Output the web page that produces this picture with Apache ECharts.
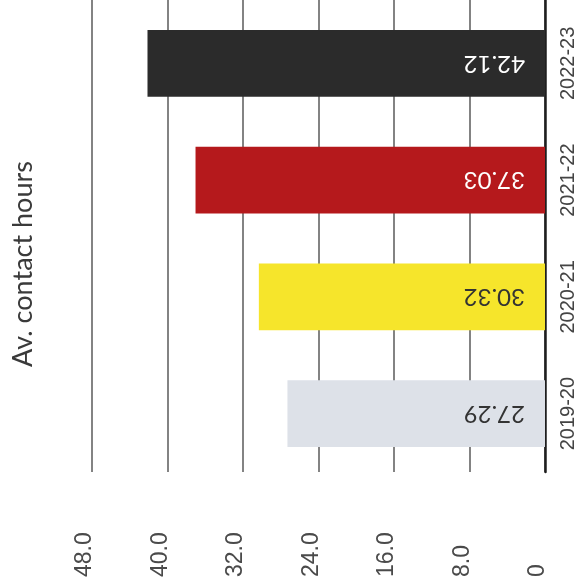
<!DOCTYPE html>
<html>
<head>
<meta charset="utf-8">
<style>
  html, body { margin: 0; padding: 0; background: #ffffff; }
  #chart { width: 582px; height: 588px; }
</style>
<script src="https://cdn.jsdelivr.net/npm/echarts@6/dist/echarts.min.js"></script>
</head>
<body>
<div id="chart"></div>
<script>
// Academic years, oldest first
const years = ['2019-20', '2020-21', '2021-22', '2022-23'];
// Average contact hours per year
const hours = [27.29, 30.32, 37.03, 42.12];
// Value axis ticks
const tickValues = [0, 8, 16, 24, 32, 40, 48];
const tickLabels = ['0', '8.0', '16.0', '24.0', '32.0', '40.0', '48.0'];

const barColors = ['#dde1e8', '#f6e52b', '#b5191c', '#2b2b2b'];
const labelColors = ['#333333', '#333333', '#ffffff', '#ffffff'];

const chart = echarts.init(document.getElementById('chart'), null, { renderer: 'canvas' });

const labelFor = v => tickLabels[tickValues.indexOf(v)];

chart.setOption({
  animation: false,
  backgroundColor: '#ffffff',
  grid: [
    // grid with the value gridlines
    { left: 92, right: 37, top: 0, bottom: 116 },
    // grid holding the bars
    { left: 92, right: 37, top: 5, bottom: 116 }
  ],
  xAxis: [
    {
      gridIndex: 0,
      type: 'value',
      min: 0,
      max: 48,
      interval: 8,
      inverse: true,
      axisLine: { show: false },
      axisTick: { show: false },
      splitLine: { show: true, lineStyle: { color: '#5a5a5a', width: 1.5 } },
      axisLabel: {
        rotate: 90,
        align: 'left',
        verticalAlign: 'bottom',
        lineHeight: 14,
        margin: 105,
        fontFamily: 'Liberation Sans',
        fontSize: 23,
        color: '#4a4a4a',
        formatter: v => labelFor(v)
      }
    },
    {
      gridIndex: 1,
      type: 'value',
      min: 0,
      max: 48,
      inverse: true,
      show: false
    }
  ],
  yAxis: [
    {
      gridIndex: 0,
      type: 'value',
      position: 'right',
      min: 0,
      max: 1,
      axisLine: { show: true, lineStyle: { color: '#1e1e1e', width: 2.5 } },
      axisTick: { show: false },
      axisLabel: { show: false },
      splitLine: { show: false }
    },
    {
      gridIndex: 1,
      type: 'category',
      position: 'right',
      data: years,
      axisLine: { show: false },
      axisTick: { show: false },
      splitLine: { show: false },
      axisLabel: {
        rotate: 90,
        align: 'center',
        verticalAlign: 'top',
        margin: 13,
        fontFamily: 'Liberation Sans',
        fontSize: 20,
        color: '#444444'
      }
    }
  ],
  series: [
    {
      type: 'bar',
      xAxisIndex: 1,
      yAxisIndex: 1,
      barCategoryGap: '43%',
      data: hours.map((v, i) => ({
        value: v,
        itemStyle: { color: barColors[i] },
        label: { color: labelColors[i] }
      })),
      label: {
        show: true,
        position: 'insideRight',
        distance: 20,
        rotate: 180,
        align: 'left',
        verticalAlign: 'middle',
        fontFamily: 'Lato',
        fontSize: 24,
        formatter: p => p.value.toFixed(2)
      }
    }
  ],
  graphic: [
    {
      type: 'text',
      x: 23,
      y: 264,
      rotation: Math.PI / 2,
      style: {
        text: 'Av. contact hours',
        fontFamily: 'Lato',
        fontSize: 27,
        fill: '#3a3a3a',
        textAlign: 'center',
        textVerticalAlign: 'middle'
      }
    }
  ]
});
</script>
</body>
</html>
